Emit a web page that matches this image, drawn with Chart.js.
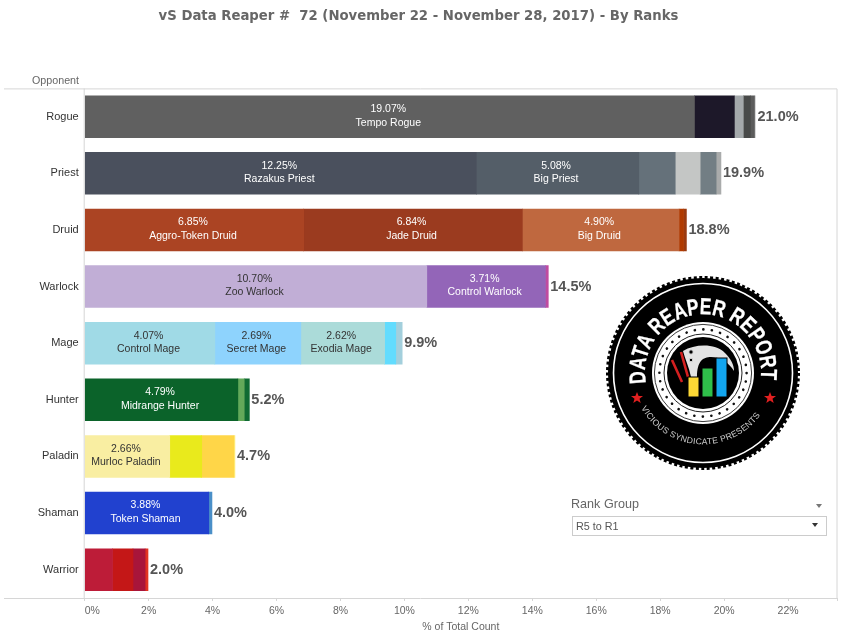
<!DOCTYPE html>
<html>
<head>
<meta charset="utf-8">
<title>vS Data Reaper 72</title>
<script src="https://cdn.jsdelivr.net/npm/chart.js@4"></script>
<style>
  body { margin: 0; background: #fff; font-family: "Liberation Sans", Arial, sans-serif; }
  #wrap { position: relative; width: 845px; height: 643px; overflow: hidden; }
  #myChart { position: absolute; left: 0; top: 0; }
  #logo { position: absolute; left: 603px; top: 273px; }
  #rankTitle { position: absolute; left: 571px; top: 497px; font-size: 12.6px; line-height: 15px; color: #666; }
  #rankTitle2 { position: absolute; left: 816px; top: 504px; width: 0; height: 0;
    border-left: 3.5px solid transparent; border-right: 3.5px solid transparent; border-top: 4px solid #777; }
  #rankBox { position: absolute; left: 572px; top: 516px; width: 253px; height: 18px;
    border: 1px solid #ccc; font-size: 10.8px; line-height: 18px; color: #555; text-indent: 3px; }
  #rankArrow { position: absolute; left: 812px; top: 523px; width: 0; height: 0;
    border-left: 3.5px solid transparent; border-right: 3.5px solid transparent; border-top: 4px solid #333; }
</style>
</head>
<body>
<div id="wrap">
  <canvas id="myChart" width="845" height="643"></canvas>

  <svg id="logo" width="200" height="200" viewBox="-100 -100 200 200">
    <defs>
      <path id="topArc" d="M -57 10 A 58 58 0 1 1 57 10"></path>
      <path id="bottomArc" d="M -62 35 A 71 71 0 0 0 62 35"></path>
    </defs>
    <circle r="95" fill="#000"></circle>
    <circle r="95.5" fill="none" stroke="#000" stroke-width="3" stroke-dasharray="3 2.5"></circle>
    <circle r="89.5" fill="none" stroke="#fff" stroke-width="1.6"></circle>
    <text font-family="Liberation Sans" font-weight="bold" font-size="23" fill="#fff" stroke="#fff" stroke-width="0.3">
      <textPath href="#topArc" textLength="200" lengthAdjust="spacingAndGlyphs">DATA REAPER REPORT</textPath>
    </text>
    <text font-family="Liberation Sans" font-size="8.6" fill="#ccc">
      <textPath href="#bottomArc" textLength="142" lengthAdjust="spacing">VICIOUS SYNDICATE PRESENTS</textPath>
    </text>
    <polygon transform="translate(-66 25)" fill="#e02020" points="0,-6 1.6,-2 6,-1.9 2.5,0.8 3.7,5 0,2.6 -3.7,5 -2.5,0.8 -6,-1.9 -1.6,-2"></polygon>
    <polygon transform="translate(67 25)" fill="#e02020" points="0,-6 1.6,-2 6,-1.9 2.5,0.8 3.7,5 0,2.6 -3.7,5 -2.5,0.8 -6,-1.9 -1.6,-2"></polygon>
    <circle r="51" fill="#fff"></circle>
    <circle r="48.6" fill="none" stroke="#222" stroke-width="0.9"></circle>
    <circle r="43.6" fill="none" stroke="#111" stroke-width="2.6" stroke-linecap="round" stroke-dasharray="0.1 8.46"></circle>
    <circle r="39" fill="none" stroke="#222" stroke-width="1"></circle>
    <circle r="36" fill="#000"></circle>
    <path d="M -20 -22 C -8 -29 12 -30 22 -20 C 28 -14 31 -8 31 -2 C 26 -10 18 -16 8 -16 C 0 -16 -6 -12 -6 4 L -12 4 C -14 -6 -18 -14 -20 -22 Z" fill="#e3e3e3"></path>
    <circle cx="-12" cy="-21" r="2.2" fill="#000" stroke="#ddd"></circle>
    <circle cx="-12" cy="-13" r="1.8" fill="#000" stroke="#ddd"></circle>
    <path d="M -31 -13 L -21 9 M -22 -21 L -15 4" stroke="#d42020" stroke-width="2.6" fill="none"></path>
    <rect x="-15" y="4" width="11" height="20" fill="#fdd835" stroke="#000"></rect>
    <rect x="-1" y="-5" width="11" height="29" fill="#2fbf4a" stroke="#000"></rect>
    <rect x="13" y="-15" width="11" height="39" fill="#12a5ee" stroke="#000"></rect>
  </svg>

  <div id="rankTitle">Rank Group</div>
  <div id="rankTitle2"></div>
  <div id="rankBox">R5 to R1</div>
  <div id="rankArrow"></div>
</div>

<script>
const opponents = ['Rogue', 'Priest', 'Druid', 'Warlock', 'Mage', 'Hunter', 'Paladin', 'Shaman', 'Warrior'];
const totals = [21.0, 19.9, 18.8, 14.5, 9.9, 5.2, 4.7, 4.0, 2.0];

// each array is one slice position along the stacked bars
const slice1 = [19.07, 12.25, 6.85, 10.70, 4.07, 4.79, 2.66, 3.88, 0.87];
const slice2 = [1.25, 5.08, 6.84, 3.71, 2.69, 0.20, 1.00, 0.10, 0.64];
const slice3 = [0.28, 1.14, 4.90, 0.09, 2.62, 0.16, 1.01, null, 0.38];
const slice4 = [0.22, 0.78, 0.14, null, 0.35, null, 0.03, null, 0.09];
const slice5 = [0.13, 0.50, 0.09, null, 0.20, null, null, null, null];
const slice6 = [0.03, 0.15, null, null, null, null, null, null, null];

const deck1 = ['Tempo Rogue', 'Razakus Priest', 'Aggro-Token Druid', 'Zoo Warlock', 'Control Mage', 'Midrange Hunter', 'Murloc Paladin', 'Token Shaman', ''];
const deck2 = ['', 'Big Priest', 'Jade Druid', 'Control Warlock', 'Secret Mage', '', '', '', ''];
const deck3 = ['', '', 'Big Druid', '', 'Exodia Mage', '', '', '', ''];

const xTicks = [0, 2, 4, 6, 8, 10, 12, 14, 16, 18, 20, 22];
const xMax = 23.53;

const color1 = ['#606060', '#4a505d', '#ab4423', '#c1aed6', '#a0dae6', '#0b632a', '#f9eea2', '#2141cf', '#bd1c38'];
const color2 = ['#1d1829', '#545e68', '#9b3b1f', '#9365b8', '#8ed3fd', '#63a95a', '#e9ea1c', '#4a8fc8', '#c41717'];
const color3 = ['#a4a9ab', '#65717a', '#bf683f', '#c04ba0', '#abdbd9', '#0f6b33', '#ffd648', '#fff', '#a8153a'];
const color4 = ['#484a49', '#c4c6c5', '#b03a00', '#fff', '#62dcfe', '#fff', '#fdf28a', '#fff', '#e13322'];
const color5 = ['#5c5c5c', '#727e84', '#9a3a10', '#fff', '#a3cfdc', '#fff', '#fff', '#fff', '#fff'];
const color6 = ['#d0d0d0', '#a9abab', '#fff', '#fff', '#fff', '#fff', '#fff', '#fff', '#fff'];

const darkText = ['Zoo Warlock', 'Control Mage', 'Secret Mage', 'Exodia Mage', 'Murloc Paladin'];

const slices = [slice1, slice2, slice3, slice4, slice5, slice6];
const colors = [color1, color2, color3, color4, color5, color6];
const decks = [deck1, deck2, deck3];

const frame = {
  id: 'frame',
  beforeDraw(chart) {
    const { ctx, chartArea: a } = chart;
    ctx.save();
    ctx.strokeStyle = '#d6d6d6';
    ctx.lineWidth = 1;
    ctx.beginPath();
    ctx.moveTo(4, a.top + 0.5);
    ctx.lineTo(a.right, a.top + 0.5);
    ctx.lineTo(a.right, a.bottom + 0.5);
    ctx.lineTo(4, a.bottom + 0.5);
    ctx.moveTo(a.left - 0.5, a.top);
    ctx.lineTo(a.left - 0.5, a.bottom);
    ctx.stroke();
    ctx.fillStyle = '#666';
    ctx.font = '10.7px "Liberation Sans"';
    ctx.textAlign = 'right';
    ctx.textBaseline = 'middle';
    ctx.fillText('Opponent', 79, a.top - 7.5);
    ctx.restore();
  }
};

const barLabels = {
  id: 'barLabels',
  afterDatasetsDraw(chart) {
    const { ctx } = chart;
    ctx.save();
    ctx.textAlign = 'center';
    ctx.textBaseline = 'middle';
    ctx.font = '10.5px "Liberation Sans"';
    decks.forEach((names, d) => {
      const meta = chart.getDatasetMeta(d);
      names.forEach((name, i) => {
        if (!name) return;
        const bar = meta.data[i];
        const cx = (bar.x + bar.base) / 2 - 1.5;
        ctx.fillStyle = darkText.includes(name) ? '#333' : '#fff';
        ctx.fillText(slices[d][i].toFixed(2) + '%', cx, bar.y - 7.5);
        ctx.fillText(name, cx, bar.y + 6);
      });
    });

    // totals sit just past the end of each stack
    ctx.textAlign = 'left';
    ctx.font = 'bold 14.5px "Liberation Sans"';
    ctx.fillStyle = '#555';
    totals.forEach((t, i) => {
      let end = 0, y = 0;
      slices.forEach((s, d) => {
        if (s[i] === null) return;
        const bar = chart.getDatasetMeta(d).data[i];
        end = Math.max(end, bar.x);
        y = bar.y;
      });
      ctx.fillText(t.toFixed(1) + '%', end + 2, y);
    });
    ctx.restore();
  }
};

const data = {
  labels: opponents,
  datasets: slices.map((s, d) => ({
    data: s,
    backgroundColor: colors[d],
    borderWidth: 0,
    inflateAmount: 0.33,
    barPercentage: 0.74,
    categoryPercentage: 1
  }))
};

const config = {
  type: 'bar',
  data: data,
  plugins: [frame, barLabels],
  options: {
    indexAxis: 'y',
    responsive: false,
    animation: false,
    layout: { padding: { left: 0, right: 8, top: 0, bottom: 0 } },
    plugins: {
      legend: { display: false },
      tooltip: { enabled: false },
      title: {
        display: true,
        text: 'vS Data Reaper #  72 (November 22 - November 28, 2017) - By Ranks',
        color: '#666',
        font: { family: '"DejaVu Sans"', size: 13.25, weight: 'bold', lineHeight: 1.2 },
        padding: { top: 8.5, bottom: 64 }
      }
    },
    scales: {
      x: {
        stacked: true,
        min: 0,
        max: xMax,
        afterBuildTicks: s => { s.ticks = xTicks.concat(xMax).map(v => ({ value: v })); },
        afterFit: s => { s.height = 45; },
        border: { display: false },
        grid: { drawOnChartArea: false, drawTicks: true, tickLength: 3, color: '#d6d6d6' },
        ticks: {
          autoSkip: false,
          maxRotation: 0,
          align: 'inner',
          padding: 4,
          color: '#666',
          font: { family: '"Liberation Sans"', size: 10.5 },
          callback: v => (v === xMax ? '' : v + '%')
        },
        title: {
          display: true,
          text: '% of Total Count',
          color: '#666',
          font: { family: '"Liberation Sans"', size: 10.5 },
          padding: { top: 0, bottom: 10 }
        }
      },
      y: {
        stacked: true,
        afterFit: s => { s.width = 84.7; },
        border: { display: false },
        grid: { display: false, drawTicks: false },
        ticks: {
          padding: 6,
          color: '#333',
          font: { family: '"Liberation Sans"', size: 11 }
        }
      }
    }
  }
};

const myChart = new Chart(document.getElementById('myChart'), config);
</script>
</body>
</html>
